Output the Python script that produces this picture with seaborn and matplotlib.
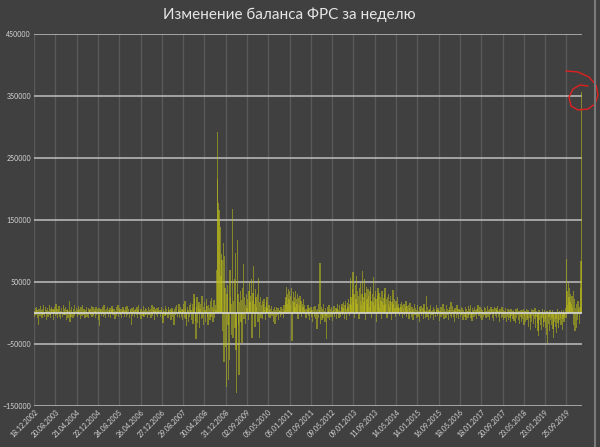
import numpy as np
import pandas as pd
import matplotlib
matplotlib.use("Agg")
import matplotlib.pyplot as plt
import seaborn as sns

# недельное изменение баланса ФРС, тыс. млн $
quiet_2003_2007 = [
    3, -6, 8, -4, 10, 5, -9, -19, 7, 2,
    -5, 11, 4, -8, 6, -3, 13, -7, 2, 9,
    -11, 5, 8, -6, 3, 12, -4, -9, 6, 10,
    -2, 7, -12, 4, 9, -5, 14, -3, 6, -8,
    5, 11, -7, 3, -10, 8, 2, -6, 12, -4,
    7, -3, 9, -11, 4, 6, -8, 3, 19, -14,
    5, -6, 10, 2, -9, 7, 13, -5, 3, -2,
    8, -7, 4, 11, -3, 6, -10, 9, 2, -5,
    12, -4, 7, 3, -8, 5, 10, -6, 2, 8,
    -9, 4, 6, -3, 11, -7, 2, 9, -5, 7,
    3, -8, 10, -4, 6, 2, -11, 8, -21, 5,
    7, -5, 3, 9, -6, 12, -3, 4, -8, 6,
    2, 10, -7, 5, -2, 8, -9, 4, 11, -4,
    6, -3, 7, -10, 3, 9, -5, 2, 12, -6,
    4, 8, -4, 6, -8, 3, 10, -2, 5, -7,
    9, 3, -6, 11, -4, 7, 2, -9, 6, 4,
    -20, 8, -5, 3, 10, -7, 4, 6, -3, 9,
    -8, 5, 12, -4, 2, 7, -10, 6, 3, -5,
    11, -6, 4, 8, -3, 6, -9, 3, 10, -4,
    5, 7, -8, 2, 12, -5, 4, 9, -11, 3,
    6, -4, 8, -7, 3, 10, -2, 5, -6, 9,
    4, -9, -17, 7, 3, -5, 11, -4, 6, 2,
    -8, 10, 5, -3, 7, -12, 4, 8, -6, 3,
    -19, 6, 9, -4, 12, 2, -7, 5, 14, -9,
    3, 10, -6, 7, -12, 4, 15, -8, 20, 6,
    -10, -21, 9, 4, -14, 12, -7, 16, 5, -11,
]
pre_crisis_2008 = [
    14, -18, 8, 31, 22, -13, -42, 10, 25, -16,
    12, 18, -24, 6, 15, -10, 28, -8, 9, -19,
    17, 5, -14, 22, 11, -7, -20, 13, 8, -12,
    19, -6, 24, 10, -15, 7, 21, -9, 12, 4,
]
crisis_2008_2009 = [
    70, 216, 292, 177, 166, 150, 139, 60, 95, 85,
    -30, 113, -80, 91, 40, -55, -119, 30, 45, -20,
    -108, -76, 70, 25, -35, 15, 168, -40, 20, 55,
    -25, 97, -60, -129, 117, 30, -20, -100, 18, 35,
    -15, 21, -48, 40, 79, -10,
]
qe1_2009_2010 = [
    25, 12, -18, 30, 8, 22, -12, 35, 50, 18,
    28, 54, -40, 20, 32, 75, 15, -22, 38, 26, 10, 30, -15, 57, -40,
    18, 25, -8, 12, 20, -10, 15, 22, 5, -12,
    10, 18, 25, 8, -6, 12, 4, -9, 7, 11,
    -5, 3, -14, 6, 9, -18, 4, -7, 10,
    -4, 8, -11, 5, 3, -6, 10, -3, 7, 2, -8, 12, 5, 18,
]
qe2_2010_2011 = [
    25, 42, 30, 15, 38, 22, 35, 12, 28, 40,
    -45, 20, 33, 18, 26, 10, 36, 22, 15, 30,
    -10, 24, 12, 28, 8, 20, -6, 15, 10, 22,
    5, 12, -8,
]
twist_2011_2012 = [
    6, -9, 4, 12, -5, 8, -12, 3, 10, -7,
    5, -14, 9, 2, -6, 11, -10, 4, -26, 7,
    15, -8, 5, 80, -18, 10, -12, 6, -9, 14,
    3, -15, 8, -5, -42, 10, -8, 4, 12, -11,
    6, -7, 9, 3, -13, 5, 11, -6, 2, 8,
    -10, 6, 14,
]
qe3_2012_2014 = [
    5, -8, 12, 3, -6, 10, 15, -4, 8, 18,
    -10, 12, 20, 6, -12, 16, 9, 22, -5, 14,
    56, 25, 12, 38, 66, 18, 30, -8, 45, 22,
    60, 15, 35, 28, -10, 40, 20, 48, 12, 30,
    67, 25, 18, 55, 32, -12, 42, 22, 15, 38,
    28, 10, 35, 42, 20, -8, 30, 18, 58, 25,
    12, 36, 22, -15, 28, 40, 15, 32, 8, 26,
    20, -10, 35, 18, 24, 12, 30, 40, 15, 22,
    -8, 25, 14, 30, 10, 20, 28, -12, 18, 12,
    37, 15, 22, 8, -6, 20, 12, 25, 10, 15,
    8, -5, 14, 10, 18, -9, 12, 6, 15, -4,
    9, 20, -7, 11, 5, 13, -10, 8, 16, 3,
]
flat_2015_2017 = [
    -6, 10, 4, -12, 7, 15, -3, 8, -9, 5,
    12, -7, 3, 9, -14, 6, 11, -5, 2, 8,
    -10, 14, 5, -8, 3, 27, -6, 9, -12, 4,
    7, 12, -9, 3, -4, 5, 10, -11, 6, 2,
    -7, 13, 4, -5, 8, 5, -13, 3, 10, -6,
    9, -4, 15, 2, -10, 7, 3, -8, 12, -3,
    6, -12, 4, 9, -5, 17, -8, 2, 11, -6,
    5, -14, 8, 3, -9, 12, -4, 6, -10, 7,
    4, -7, 10, -3, 8, -11, 5, 2, -6, 9,
    -12, 6, 3, -8, 11, -4, 7, 13, -9, 2,
    -13, 8, 4, -6, 10, -3, 5, -10, 7, 12,
    13, -5, 3, 9, -8, 6, -12, 4, 2, -7,
    10, -4, 8, -9, 3, 11, -6, 5, -11, 7,
    -3, 9, 4, -8, 6, -13, 2, 10, -5, 8,
    -9, 4, 11, -6, 3, -14, 7, 2, -8, 10,
]
runoff_2017_2019 = [
    -6, 5, -12, 3, -9, 8, -15, 2, -7, 6,
    -11, 4, -8, -14, 7, -5, 3, -10, 5, -13,
    2, -16, 6, -9, -4, 8, -12, 3, -18, 5,
    -7, -14, 4, -10, 6, -20, -5, 3, -15, 7,
    -12, -8, 5, -22, 2, -9, -27, 6, -14, -5,
    4, -18, -10, 8, -24, -6, 3, -16, -30, -38,
    5, -12, -20, 2, -28, -8, 6, -22, -14, 4,
    -25, -10, -35, 3, -48, -18, -6, -30, 5, -12,
    -20, -8, 4, -26, -40, -14, 2, -22, -10, -32,
    6, -16, -24, 3, -12, -8, -20, 5, -27, -10,
    4, -15, -6, 8, -9,
]
repo_2019_2020 = [
    87, 35, 12, 49, 25, 40, 18, 30, 15, 28,
    10, -20, 35, 22, -30, 8, -25, 14, -12, 20,
    6, -18, 10, 40, 83, 357,
]

delta = np.array(quiet_2003_2007 + pre_crisis_2008 + crisis_2008_2009 + qe1_2009_2010
                 + qe2_2010_2011 + twist_2011_2012 + qe3_2012_2014 + flat_2015_2017
                 + runoff_2017_2019 + repo_2019_2020) * 1000
weeks = pd.date_range("2002-12-18", periods=len(delta), freq="7D").strftime("%d.%m.%Y")
df = pd.DataFrame({"week": weeks, "delta": delta})

bg = "#404040"
sns.set_theme(style="dark")
plt.rcParams["font.family"] = ["Lato", "DejaVu Sans"]

fig = plt.figure(figsize=(6, 4.47), dpi=100, facecolor=bg)
ax = fig.add_axes([0.0562, 0.092, 0.9138, 0.832])
ax.set_facecolor(bg)

sns.barplot(data=df, x="week", y="delta", color="#bebe18", saturation=1,
            alpha=0.55, width=2.2, errorbar=None, linewidth=0, edgecolor="none",
            ax=ax, zorder=3)

ax.set_ylim(-150000, 450000)
ax.set_yticks(np.arange(-150000, 450001, 100000))
ax.set_xlim(-0.5, len(delta) - 0.5)
pos = np.arange(0, len(delta), 35)
ax.set_xticks(pos)
ax.set_xticklabels(weeks[pos], rotation=45, ha="right", va="top", rotation_mode="anchor")

ax.yaxis.grid(True, color="#bfbfbf", lw=1.1, zorder=1)
ax.xaxis.grid(True, color="#595959", lw=1.0, zorder=0)
ax.set_axisbelow(True)
ax.axhline(0, color="#d9d9d9", lw=1.2, zorder=4)
for s in ax.spines.values():
    s.set_visible(False)
ax.tick_params(axis="both", length=0, labelsize=5, colors="#d9d9d9", pad=2)
ax.set_xlabel("")
ax.set_ylabel("")

fig.text(289 / 600, 1 - 15 / 447, "Изменение баланса ФРС за неделю",
         ha="center", va="center", fontsize=11, color="#e6e6e6")

# красный кружок от руки
loop = [(566, 71), (578, 72), (589, 77), (596, 85), (598, 95), (595, 104), (588, 109),
        (578, 110), (571, 106), (569, 97), (573, 89), (580, 85), (588, 86)]
fig.add_artist(plt.Line2D([p[0] / 600 for p in loop], [1 - p[1] / 447 for p in loop],
                          transform=fig.transFigure, color="#e02020", lw=1.0))
fig.add_artist(plt.Line2D([595 / 600, 595 / 600], [0, 1], transform=fig.transFigure,
                          color="#7a7a7a", lw=1.5))

plt.savefig("out.png", dpi=100, facecolor=bg)
